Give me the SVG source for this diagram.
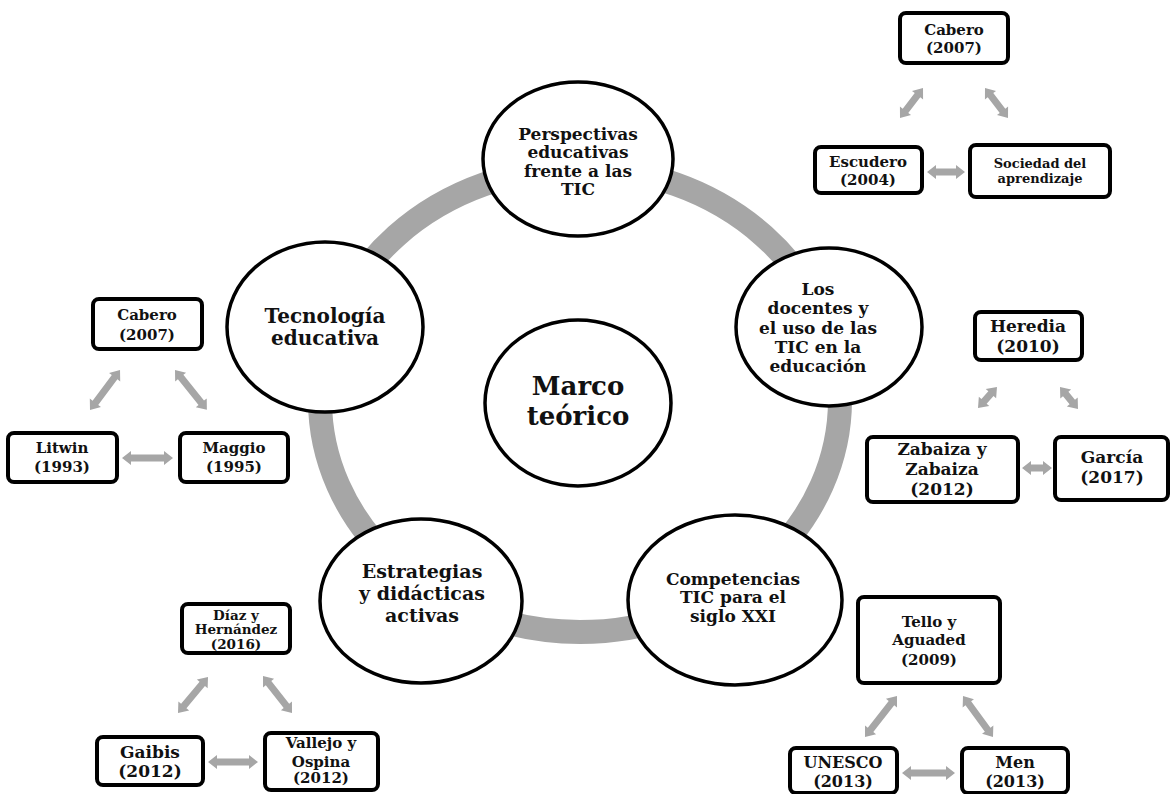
<svg xmlns="http://www.w3.org/2000/svg" width="1171" height="794" viewBox="0 0 1171 794">
<style>
text{font-family:"DejaVu Serif","Liberation Serif",serif;font-weight:bold;fill:#111;text-anchor:middle}
.ring{fill:none;stroke:#a6a6a6;stroke-width:24}
.c{fill:#fff;stroke:#000;stroke-width:3.5}
.b{fill:#fff;stroke:#000;stroke-width:4}
.arr{fill:#a6a6a6;stroke:none}
.f13{font-size:13px}.f135{font-size:13.5px}.f15{font-size:15px}.f16{font-size:16px}.f17{font-size:17px}.f19{font-size:19px}.f20{font-size:20px}.f26{font-size:26px}
</style>
<rect width="1171" height="794" fill="#fff"/>
<g id="connectors">
<ellipse class="ring" cx="580" cy="400" rx="260" ry="232"/>
<path class="arr" d="M0,0 L9,-7 L9,-3.5 L28.8,-3.5 L28.8,-7 L37.8,0 L28.8,7 L28.8,3.5 L9,3.5 L9,7 Z" transform="translate(900,118) rotate(-52.5)"/>
<path class="arr" d="M0,0 L9,-7 L9,-3.5 L28.8,-3.5 L28.8,-7 L37.8,0 L28.8,7 L28.8,3.5 L9,3.5 L9,7 Z" transform="translate(985,88) rotate(52.5)"/>
<path class="arr" d="M0,0 L9,-7 L9,-3.5 L29,-3.5 L29,-7 L38,0 L29,7 L29,3.5 L9,3.5 L9,7 Z" transform="translate(927,172)"/>
<path class="arr" d="M0,0 L9,-7 L9,-3.5 L41,-3.5 L41,-7 L50,0 L41,7 L41,3.5 L9,3.5 L9,7 Z" transform="translate(90,410) rotate(-53.1)"/>
<path class="arr" d="M0,0 L9,-7 L9,-3.5 L42,-3.5 L42,-7 L51,0 L42,7 L42,3.5 L9,3.5 L9,7 Z" transform="translate(175,370) rotate(51.3)"/>
<path class="arr" d="M0,0 L9,-7 L9,-3.5 L42,-3.5 L42,-7 L51,0 L42,7 L42,3.5 L9,3.5 L9,7 Z" transform="translate(122,458)"/>
<path class="arr" d="M0,0 L9,-7 L9,-3.5 L19.3,-3.5 L19.3,-7 L28.3,0 L19.3,7 L19.3,3.5 L9,3.5 L9,7 Z" transform="translate(978,408) rotate(-47.9)"/>
<path class="arr" d="M0,0 L9,-7 L9,-3.5 L19.4,-3.5 L19.4,-7 L28.4,0 L19.4,7 L19.4,3.5 L9,3.5 L9,7 Z" transform="translate(1060,387) rotate(50.7)"/>
<path class="arr" d="M0,0 L9,-7 L9,-3.5 L21,-3.5 L21,-7 L30,0 L21,7 L21,3.5 L9,3.5 L9,7 Z" transform="translate(1022,468)"/>
<path class="arr" d="M0,0 L9,-7 L9,-3.5 L37.9,-3.5 L37.9,-7 L46.9,0 L37.9,7 L37.9,3.5 L9,3.5 L9,7 Z" transform="translate(178,713) rotate(-50.2)"/>
<path class="arr" d="M0,0 L9,-7 L9,-3.5 L38,-3.5 L38,-7 L47,0 L38,7 L38,3.5 L9,3.5 L9,7 Z" transform="translate(263,676) rotate(51.9)"/>
<path class="arr" d="M0,0 L9,-7 L9,-3.5 L41,-3.5 L41,-7 L50,0 L41,7 L41,3.5 L9,3.5 L9,7 Z" transform="translate(208,762)"/>
<path class="arr" d="M0,0 L9,-7 L9,-3.5 L43,-3.5 L43,-7 L52,0 L43,7 L43,3.5 L9,3.5 L9,7 Z" transform="translate(865,737) rotate(-52)"/>
<path class="arr" d="M0,0 L9,-7 L9,-3.5 L41.8,-3.5 L41.8,-7 L50.8,0 L41.8,7 L41.8,3.5 L9,3.5 L9,7 Z" transform="translate(963,696) rotate(53.8)"/>
<path class="arr" d="M0,0 L9,-7 L9,-3.5 L44,-3.5 L44,-7 L53,0 L44,7 L44,3.5 L9,3.5 L9,7 Z" transform="translate(902,773)"/>
</g>
<g id="perspectivas">
<ellipse class="c" cx="578" cy="159" rx="95" ry="77"/>
<text class="f17" x="578" y="140">Perspectivas</text>
<text class="f17" x="578" y="158">educativas</text>
<text class="f17" x="578" y="177">frente a las</text>
<text class="f17" x="578" y="195">TIC</text>
</g>
<g id="docentes">
<ellipse class="c" cx="829" cy="327" rx="93" ry="79"/>
<text class="f17" x="818" y="295">Los</text>
<text class="f17" x="818" y="314">docentes y</text>
<text class="f17" x="818" y="334">el uso de las</text>
<text class="f17" x="818" y="353">TIC en la</text>
<text class="f17" x="818" y="372">educación</text>
</g>
<g id="competencias">
<ellipse class="c" cx="735" cy="600" rx="107" ry="85"/>
<text class="f17" x="733" y="585">Competencias</text>
<text class="f17" x="733" y="603">TIC para el</text>
<text class="f17" x="733" y="622">siglo XXI</text>
</g>
<g id="estrategias">
<ellipse class="c" cx="421" cy="601" rx="101" ry="82"/>
<text class="f19" x="422" y="578">Estrategias</text>
<text class="f19" x="422" y="600">y didácticas</text>
<text class="f19" x="422" y="622">activas</text>
</g>
<g id="tecnologia">
<ellipse class="c" cx="325" cy="327" rx="98" ry="85"/>
<text class="f20" x="325" y="323">Tecnología</text>
<text class="f20" x="325" y="345">educativa</text>
</g>
<g id="marco">
<ellipse class="c" cx="578" cy="403" rx="93" ry="83"/>
<text class="f26" x="578" y="395">Marco</text>
<text class="f26" x="578" y="425">teórico</text>
</g>
<g id="cabero-tr">
<rect class="b" x="900" y="13" width="108" height="50" rx="6"/>
<text class="f15" x="954" y="35">Cabero</text>
<text class="f15" x="954" y="53">(2007)</text>
</g>
<g id="escudero">
<rect class="b" x="815" y="147" width="107" height="46" rx="6"/>
<text class="f15" x="868" y="167">Escudero</text>
<text class="f15" x="868" y="185">(2004)</text>
</g>
<g id="sociedad">
<rect class="b" x="970" y="145" width="140" height="52" rx="6"/>
<text class="f13" x="1040" y="168">Sociedad del</text>
<text class="f13" x="1040" y="183">aprendizaje</text>
</g>
<g id="cabero-l">
<rect class="b" x="93" y="299" width="109" height="50" rx="6"/>
<text class="f15" x="147" y="320">Cabero</text>
<text class="f15" x="147" y="340">(2007)</text>
</g>
<g id="litwin">
<rect class="b" x="8" y="433" width="109" height="49" rx="6"/>
<text class="f15" x="62" y="453">Litwin</text>
<text class="f15" x="62" y="472">(1993)</text>
</g>
<g id="maggio">
<rect class="b" x="180" y="433" width="108" height="49" rx="6"/>
<text class="f15" x="234" y="453">Maggio</text>
<text class="f15" x="234" y="472">(1995)</text>
</g>
<g id="heredia">
<rect class="b" x="975" y="312" width="107" height="48" rx="6"/>
<text class="f17" x="1028" y="332">Heredia</text>
<text class="f17" x="1028" y="352">(2010)</text>
</g>
<g id="zabaiza">
<rect class="b" x="867" y="437" width="151" height="65" rx="6"/>
<text class="f17" x="942" y="455">Zabaiza y</text>
<text class="f17" x="942" y="475">Zabaiza</text>
<text class="f17" x="942" y="495">(2012)</text>
</g>
<g id="garcia">
<rect class="b" x="1055" y="437" width="113" height="63" rx="6"/>
<text class="f17" x="1112" y="463">García</text>
<text class="f17" x="1112" y="483">(2017)</text>
</g>
<g id="diaz">
<rect class="b" x="182" y="604" width="108" height="49" rx="6"/>
<text class="f135" x="236" y="620">Díaz y</text>
<text class="f135" x="236" y="634">Hernández</text>
<text class="f135" x="236" y="649">(2016)</text>
</g>
<g id="gaibis">
<rect class="b" x="97" y="737" width="106" height="48" rx="6"/>
<text class="f17" x="150" y="758">Gaibis</text>
<text class="f17" x="150" y="777">(2012)</text>
</g>
<g id="vallejo">
<rect class="b" x="265" y="733" width="113" height="57" rx="6"/>
<text class="f15" x="321" y="748">Vallejo y</text>
<text class="f15" x="321" y="767">Ospina</text>
<text class="f15" x="321" y="783">(2012)</text>
</g>
<g id="tello">
<rect class="b" x="858" y="597" width="142" height="86" rx="6"/>
<text class="f15" x="929" y="627">Tello y</text>
<text class="f15" x="929" y="645">Aguaded</text>
<text class="f15" x="929" y="665">(2009)</text>
</g>
<g id="unesco">
<rect class="b" x="790" y="748" width="107" height="45" rx="6"/>
<text class="f16" x="843" y="768">UNESCO</text>
<text class="f16" x="843" y="787">(2013)</text>
</g>
<g id="men">
<rect class="b" x="962" y="748" width="106" height="45" rx="6"/>
<text class="f16" x="1015" y="768">Men</text>
<text class="f16" x="1015" y="787">(2013)</text>
</g>
</svg>
